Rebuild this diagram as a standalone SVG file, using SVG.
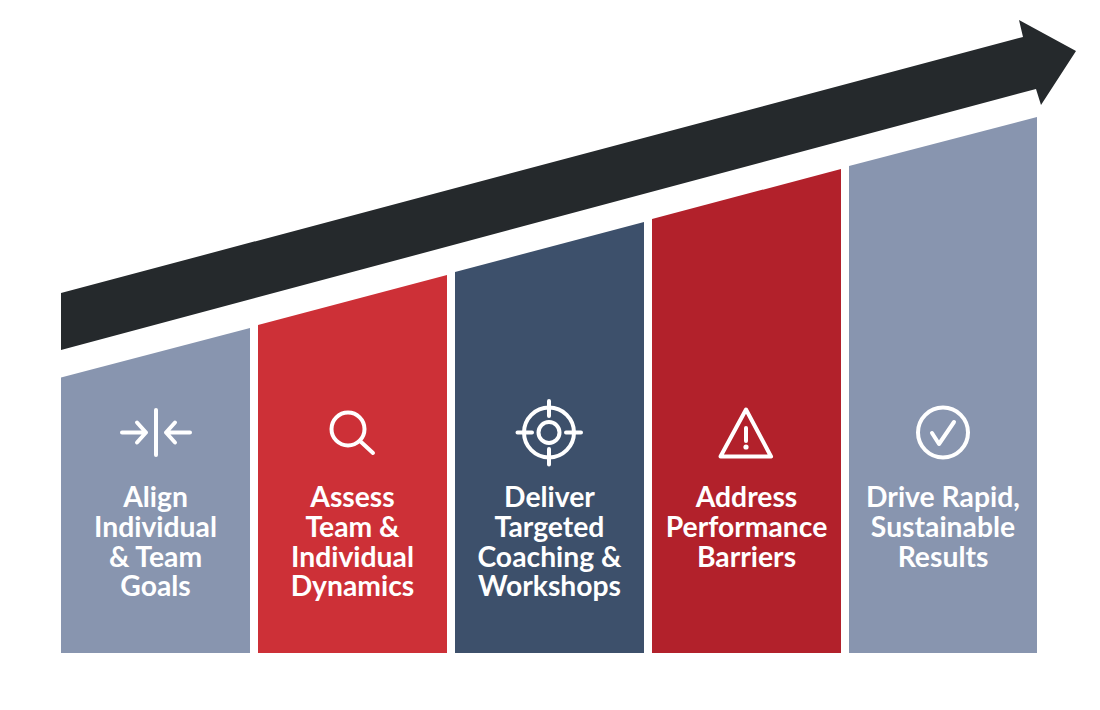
<svg xmlns="http://www.w3.org/2000/svg" width="1100" height="710" viewBox="0 0 1100 710">
<style>
.t{font-family:Lato,"Liberation Sans",sans-serif;font-size:28.300px;font-weight:700;fill:#fff;text-anchor:middle}
.i{fill:none;stroke:#fff;stroke-width:4;stroke-linecap:round;stroke-linejoin:round}
.slate{fill:#8895af}.red{fill:#cd3037}.navy{fill:#3d506b}.dark{fill:#b2212b}
</style>
<rect width="1100" height="710" fill="#fff"/>
<g id="arrow"><polygon points="61,293 1023,37 1019,20 1076,51 1041,105 1036,89 61,350" fill="#25292c"/></g>
<g id="step1">
<polygon class="slate" points="61,377.500 250,328 250,653 61,653"/>
<path class="i" d="M156,410V455M122,432.500H146M137,422.500L146,432.500L137,442.500M190,432.500H166M175,422.500L166,432.500L175,442.500"/>
<text class="t" x="155.500" y="506.500">Align</text><text class="t" x="155.500" y="536.500">Individual</text><text class="t" x="155.500" y="566.500">&amp; Team</text><text class="t" x="155.500" y="595.500">Goals</text>
</g>
<g id="step2">
<polygon class="red" points="258,325 447,275 447,653 258,653"/>
<circle class="i" cx="348" cy="429" r="16.500"/><path class="i" d="M360,441L373,453"/>
<text class="t" x="352.500" y="506.500">Assess</text><text class="t" x="352.500" y="536.500">Team &amp;</text><text class="t" x="352.500" y="566.500">Individual</text><text class="t" x="352.500" y="595.500">Dynamics</text>
</g>
<g id="step3">
<polygon class="navy" points="455,272 644,222 644,653 455,653"/>
<circle class="i" cx="549" cy="432.500" r="25"/><circle class="i" cx="549" cy="432.500" r="10.500"/>
<path class="i" d="M549,401V416M549,449V464.500M517.500,432.500H532M566,432.500H581"/>
<text class="t" x="549.500" y="506.500">Deliver</text><text class="t" x="549.500" y="536.500">Targeted</text><text class="t" x="549.500" y="566.500">Coaching &amp;</text><text class="t" x="549.500" y="595.500">Workshops</text>
</g>
<g id="step4">
<polygon class="dark" points="652,219 841,169 841,653 652,653"/>
<path class="i" d="M746,409.500L771,456.500H720.500Z"/><path class="i" d="M746,428V441"/><circle cx="746" cy="447" r="2.600" fill="#fff"/>
<text class="t" x="746.500" y="506.500">Address</text><text class="t" x="746.500" y="536.500">Performance</text><text class="t" x="746.500" y="566.500">Barriers</text>
</g>
<g id="step5">
<polygon class="slate" points="849,166 1037,117 1037,653 849,653"/>
<circle class="i" cx="943" cy="432.500" r="25"/><path class="i" d="M932,433L939,444L954,422"/>
<text class="t" x="943" y="506.500">Drive Rapid,</text><text class="t" x="943" y="536.500">Sustainable</text><text class="t" x="943" y="566.500">Results</text>
</g>
</svg>
